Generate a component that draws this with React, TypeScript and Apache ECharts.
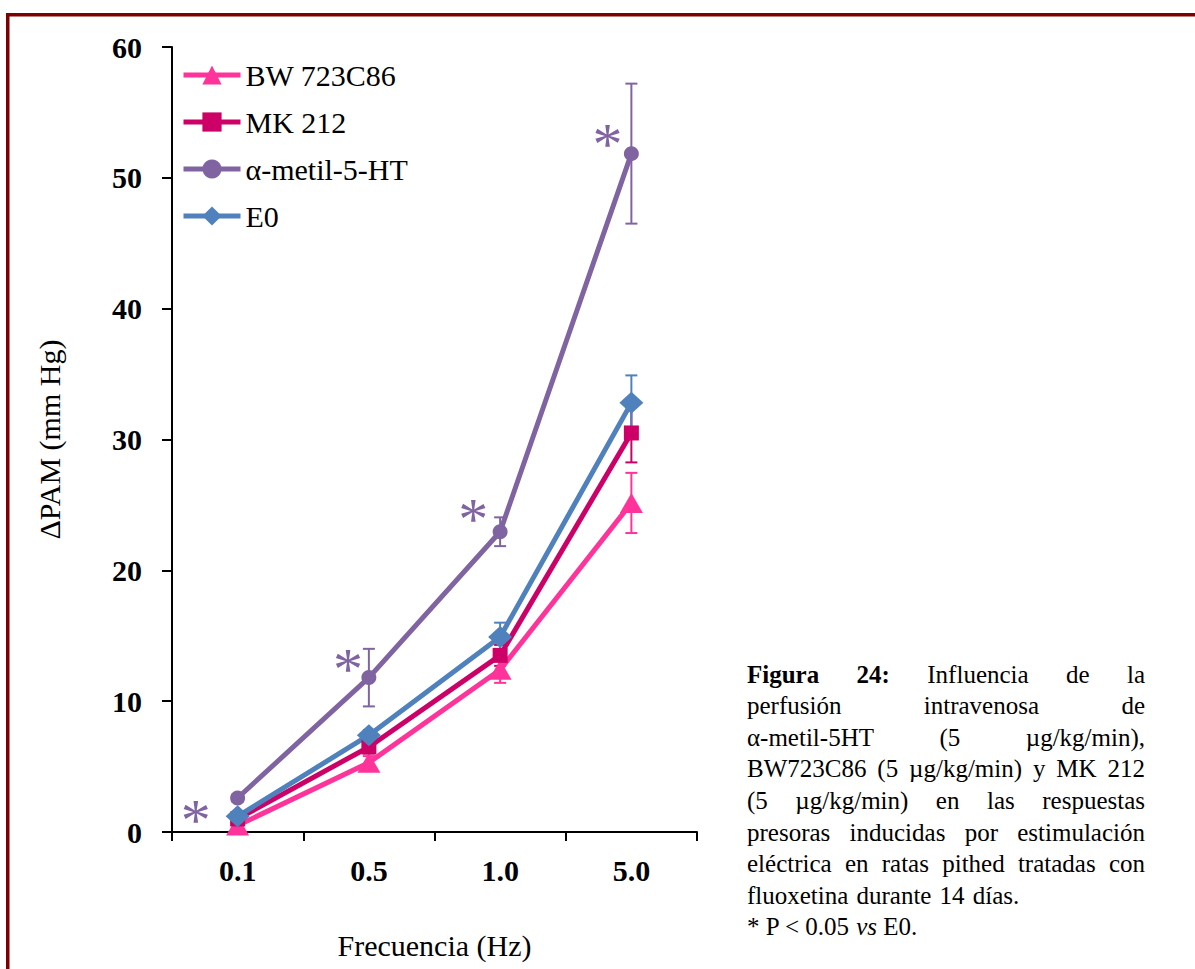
import React, { useEffect, useRef } from "react";
import * as echarts from "echarts";

const categories = ["0.1", "0.5", "1.0", "5.0"];
const yMin = 0;
const yMax = 60;
const yInterval = 10;

const bwName = "BW 723C86";
const bwMean = [0.5, 5.3, 12.4, 25.15];
const bwSem = [0.2, 0.5, 1.0, 2.3];

const mkName = "MK 212";
const mkMean = [1.0, 6.5, 13.5, 30.5];
const mkSem = [0.2, 0.5, 0.8, 2.25];

const alphaName = "α-metil-5-HT";
const alphaMean = [2.6, 11.8, 22.95, 51.85];
const alphaSem = [0.3, 2.2, 1.1, 5.35];
const alphaSignificant = [true, true, true, true];

const e0Name = "E0";
const e0Mean = [1.2, 7.4, 14.9, 32.8];
const e0Sem = [0.2, 0.4, 1.1, 2.1];

const yAxisName = "ΔPAM (mm Hg)";
const xAxisName = "Frecuencia (Hz)";

const captionLines = [
  "Figura 24: Influencia de la",
  "perfusión intravenosa de",
  "α-metil-5HT (5 µg/kg/min),",
  "BW723C86 (5 µg/kg/min) y MK 212",
  "(5 µg/kg/min) en las respuestas",
  "presoras inducidas por estimulación",
  "eléctrica en ratas pithed tratadas con",
  "fluoxetina durante 14 días.",
];
const captionBoldWords = 2;
const captionJustifiedCount = 7;
const captionNote = "* P < 0.05 {i|vs} E0.";

const SERIF = "Liberation Serif, Times New Roman, serif";

export default function App() {
  const ref = useRef<HTMLDivElement>(null);

  useEffect(() => {
    const chart = echarts.init(ref.current!, null, { renderer: "svg" });

    const defs = [
      { name: bwName, mean: bwMean, sem: bwSem, color: "#FF3399", symbol: "triangle", size: [23, 20] },
      { name: mkName, mean: mkMean, sem: mkSem, color: "#CC0066", symbol: "rect", size: 15 },
      { name: alphaName, mean: alphaMean, sem: alphaSem, color: "#8064A2", symbol: "circle", size: 15 },
      { name: e0Name, mean: e0Mean, sem: e0Sem, color: "#4F81BD", symbol: "diamond", size: [24, 22] },
    ];

    const sigOffsets = [
      [-42, 22],
      [-21, -9],
      [-27, -12.5],
      [-24, -10],
    ];

    const errorSeries = defs.map((d) => ({
      type: "custom",
      name: d.name + " SEM",
      z: 1,
      silent: true,
      data: d.mean.map((m, i) => [i, m - d.sem[i], m + d.sem[i]]),
      encode: { x: 0, y: [1, 2] },
      renderItem: (params: any, api: any) => {
        const x = api.value(0);
        const lo = api.coord([x, api.value(1)]);
        const hi = api.coord([x, api.value(2)]);
        const hw = 6;
        const st = { stroke: d.color, lineWidth: 2 };
        return {
          type: "group",
          children: [
            { type: "line", shape: { x1: hi[0], y1: hi[1], x2: lo[0], y2: lo[1] }, style: st },
            { type: "line", shape: { x1: hi[0] - hw, y1: hi[1], x2: hi[0] + hw, y2: hi[1] }, style: st },
            { type: "line", shape: { x1: lo[0] - hw, y1: lo[1], x2: lo[0] + hw, y2: lo[1] }, style: st },
          ],
        };
      },
    }));

    const lineSeries = defs.map((d) => ({
      type: "line",
      name: d.name,
      z: 2,
      symbol: d.symbol,
      symbolSize: d.size,
      showAllSymbol: true,
      lineStyle: { color: d.color, width: 5 },
      itemStyle: { color: d.color },
      data: d.mean.map((m, i) => {
        if (d.name === alphaName && alphaSignificant[i]) {
          return {
            value: m,
            label: {
              show: true,
              position: "inside",
              offset: sigOffsets[i],
              formatter: "*",
              fontFamily: SERIF,
              fontSize: 60,
              color: "#8064A2",
            },
          };
        }
        return m;
      }),
    }));

    const canvas = document.createElement("canvas");
    const ctx = canvas.getContext("2d")!;
    const capSize = 25;
    const capLeft = 747;
    const capRight = 1145;
    const capBase = 674;
    const capStep = 31.6;
    const measure = (t: string, bold: boolean) => {
      ctx.font = `${bold ? "bold " : ""}${capSize}px ${SERIF}`;
      return ctx.measureText(t).width;
    };
    const captionEls: any[] = [];
    captionLines.forEach((line, li) => {
      const words = line.split(" ");
      const widths = words.map((w, wi) => measure(w, li === 0 && wi < captionBoldWords));
      const total = widths.reduce((a, b) => a + b, 0);
      const justify = li < captionJustifiedCount;
      const gap = justify ? (capRight - capLeft - total) / (words.length - 1) : measure(" ", false) * 1.3;
      let x = capLeft;
      words.forEach((w, wi) => {
        captionEls.push({
          type: "text",
          x,
          y: capBase + li * capStep,
          style: {
            text: w,
            fontFamily: SERIF,
            fontSize: capSize,
            fontWeight: li === 0 && wi < captionBoldWords ? "bold" : "normal",
            fill: "#000",
            textAlign: "left",
            textVerticalAlign: "middle",
          },
        });
        x += widths[wi] + gap;
      });
    });
    captionEls.push({
      type: "text",
      x: capLeft,
      y: capBase + captionLines.length * capStep,
      style: {
        text: captionNote,
        fontFamily: SERIF,
        fontSize: capSize,
        fill: "#000",
        textAlign: "left",
        textVerticalAlign: "middle",
        rich: { i: { fontStyle: "italic", fontFamily: SERIF, fontSize: capSize, fill: "#000" } },
      },
    });

    const option: any = {
      animation: false,
      backgroundColor: "#fff",
      grid: { left: 172, right: 498, top: 47, bottom: 137, containLabel: false },
      legend: {
        data: defs.map((d) => d.name),
        orient: "vertical",
        left: 176,
        top: 55,
        itemWidth: 57,
        itemHeight: 24,
        itemGap: 17,
        lineStyle: { width: 5 },
        textStyle: { fontFamily: SERIF, fontSize: 30, color: "#000", lineHeight: 30 },
      },
      xAxis: {
        type: "category",
        data: categories,
        boundaryGap: true,
        name: xAxisName,
        nameLocation: "middle",
        nameGap: 98,
        nameTextStyle: { fontFamily: SERIF, fontSize: 30, color: "#000" },
        axisLine: { show: true, lineStyle: { color: "#000", width: 2 } },
        axisTick: { show: true, length: 9, lineStyle: { color: "#000", width: 2 } },
        axisLabel: { fontFamily: SERIF, fontSize: 30, fontWeight: "bold", color: "#000", margin: 23 },
        splitLine: { show: false },
      },
      yAxis: {
        type: "value",
        min: yMin,
        max: yMax,
        interval: yInterval,
        name: yAxisName,
        nameLocation: "middle",
        nameGap: 108,
        nameTextStyle: { fontFamily: SERIF, fontSize: 30, color: "#000" },
        axisLine: { show: true, lineStyle: { color: "#000", width: 2 } },
        axisTick: { show: true, length: 10, lineStyle: { color: "#000", width: 2 } },
        axisLabel: { fontFamily: SERIF, fontSize: 30, fontWeight: "bold", color: "#000", margin: 30 },
        splitLine: { show: false },
      },
      graphic: [
        { type: "rect", shape: { x: 6, y: 13, width: 1189, height: 3.5 }, style: { fill: "#7F0000" }, silent: true },
        { type: "rect", shape: { x: 6, y: 13, width: 3.5, height: 956 }, style: { fill: "#7F0000" }, silent: true },
        ...captionEls,
      ],
      series: [...errorSeries, ...lineSeries],
    };

    chart.setOption(option);
    return () => chart.dispose();
  }, []);

  return (
    <div
      ref={ref}
      style={{ position: "fixed", left: 0, top: 0, width: 1195, height: 969, background: "#fff" }}
    />
  );
}
